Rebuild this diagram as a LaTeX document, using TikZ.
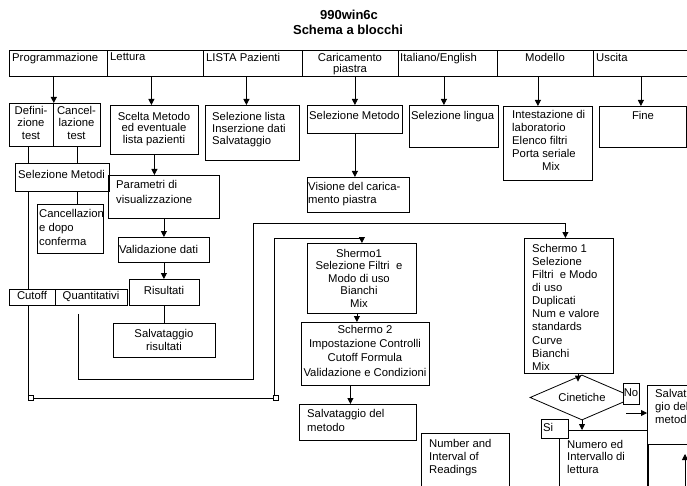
\documentclass[tikz,border=0pt]{standalone}
\usepackage{fontspec}
\setmainfont{Liberation Sans}
\usetikzlibrary{arrows.meta,shapes.geometric}

\begin{document}
\begin{tikzpicture}[x=1pt,y=-1pt,
	blocco/.style={draw,rectangle,inner sep=0pt,line width=0.8pt,anchor=north west},
	testo/.style={inner sep=0pt,font=\fontsize{11.3}{12.5}\selectfont},
	titolo/.style={inner sep=0pt,font=\bfseries\fontsize{13}{14}\selectfont},
	freccia/.style={line width=0.8pt,-{Triangle[length=6pt,width=6pt]}},
	linea/.style={line width=0.8pt},
	quadretto/.style={draw,fill=white,inner sep=0pt,minimum size=5pt,line width=0.6pt}]
			\useasboundingbox (0,0) rectangle (687,486);
			\clip (0,0) rectangle (687,486);
			% titolo
			\node[titolo] (tit1) at (349,15) {990win6c};
			\node[titolo] (tit2) at (348,30) {Schema a blocchi};
			% barra dei menu
			\node[blocco,minimum width=98,minimum height=26] (prog) at (9,50) {};
			\node[blocco,minimum width=96,minimum height=26] (lett) at (107,50) {};
			\node[blocco,minimum width=99,minimum height=26] (lista) at (203,50) {};
			\node[blocco,minimum width=96,minimum height=26] (caric) at (302,50) {};
			\node[blocco,minimum width=99,minimum height=26] (ital) at (398,50) {};
			\node[blocco,minimum width=96,minimum height=26] (mod) at (497,50) {};
			\node[blocco,minimum width=110,minimum height=26] (usc) at (593,50) {};
			\node[testo,anchor=north west] (prog-t) at (12,53) {Programmazione};
			\node[testo,anchor=north west] (lett-t) at (110,53) {Lettura};
			\node[testo,anchor=north west] (lista-t) at (206,53) {LISTA Pazienti};
			\node[testo,anchor=north,align=center,font=\fontsize{11.3}{11.5}\selectfont] (caric-t) at (350,53) {Caricamento\\piastra};
			\node[testo,anchor=north west] (ital-t) at (400,53) {Italiano/English};
			\node[testo,anchor=north] (mod-t) at (545,53) {Modello};
			\node[testo,anchor=north west] (usc-t) at (596,53) {Uscita};
			% secondo livello
			\node[blocco,minimum width=44,minimum height=43] (def) at (9,103) {};
			\node[blocco,minimum width=47,minimum height=43] (canc) at (53,103) {};
			\node[blocco,minimum width=88,minimum height=49] (scelta) at (110,105) {};
			\node[blocco,minimum width=94,minimum height=55] (sellista) at (205,105) {};
			\node[blocco,minimum width=95,minimum height=28] (selmet) at (307,105) {};
			\node[blocco,minimum width=89,minimum height=42] (sellingua) at (409,105) {};
			\node[blocco,minimum width=89,minimum height=74] (intest) at (503,106) {};
			\node[blocco,minimum width=87,minimum height=41] (fine) at (599,106) {};
			\node[blocco,minimum width=102,minimum height=35] (visione) at (307,177) {};
			\node[testo,anchor=north,align=center] (def-t) at (31,106) {Defini-\\zione\\test};
			\node[testo,anchor=north,align=center] (canc-t) at (76.5,106) {Cancel-\\lazione\\test};
			\node[testo,anchor=north,align=center,font=\fontsize{11.3}{11.5}\selectfont] (scelta-t) at (154,112) {Scelta Metodo\\ed eventuale\\lista pazienti};
			\node[testo,anchor=north west,align=left,font=\fontsize{11.3}{12}\selectfont] (sellista-t) at (212,112) {Selezione lista\\Inserzione dati\\Salvataggio};
			\node[testo,anchor=north west] (selmet-t) at (309,111) {Selezione Metodo};
			\node[testo,anchor=north west] (sellingua-t) at (411,111) {Selezione lingua};
			\node[testo,anchor=north west,align=left,font=\fontsize{11.3}{13}\selectfont] (intest-t) at (512,110) {Intestazione di\\laboratorio\\Elenco filtri\\Porta seriale\\\hspace*{30pt}Mix};
			\node[testo,anchor=north] (fine-t) at (643,111) {Fine};
			\node[testo,anchor=north west,align=left,font=\fontsize{11.3}{13}\selectfont] (visione-t) at (308,182) {Visione del carica-\\mento piastra};
			% colonna sinistra
			\node[blocco,minimum width=94,minimum height=28] (selmetodi) at (15,163) {};
			\node[blocco,minimum width=66,minimum height=49] (cancdopo) at (37,204) {};
			\node[blocco,minimum width=111,minimum height=43] (param) at (108,175) {};
			\node[blocco,minimum width=91,minimum height=25] (valid) at (118,237) {};
			\node[blocco,minimum width=70,minimum height=26] (risult) at (129,279) {};
			\node[blocco,minimum width=46,minimum height=16] (cutoff) at (9,289) {};
			\node[blocco,minimum width=72,minimum height=16] (quant) at (55,289) {};
			\node[blocco,minimum width=102,minimum height=34] (salvris) at (113,323) {};
			\node[testo,anchor=north west] (selmetodi-t) at (18,170) {Selezione Metodi};
			\node[testo,anchor=north west,align=left,font=\fontsize{11.3}{14}\selectfont] (cancdopo-t) at (39,209) {Cancellazion\\e dopo\\conferma};
			\node[testo,anchor=north west,align=left,font=\fontsize{11.3}{15}\selectfont] (param-t) at (116,180) {Parametri di\\visualizzazione};
			\node[testo,anchor=north west] (valid-t) at (119,245) {Validazione dati};
			\node[testo,anchor=north] (risult-t) at (164,286) {Risultati};
			\node[testo,anchor=north] (cutoff-t) at (32,291) {Cutoff};
			\node[testo,anchor=north] (quant-t) at (91,291) {Quantitativi};
			\node[testo,anchor=north,align=center,font=\fontsize{11.3}{13}\selectfont] (salvris-t) at (164,329) {Salvataggio\\risultati};
			% colonna centrale
			\node[blocco,minimum width=109,minimum height=70] (shermo1) at (307,243) {};
			\node[blocco,minimum width=128,minimum height=63] (schermo2) at (301,322) {};
			\node[blocco,minimum width=117,minimum height=36] (salvmet) at (299,404) {};
			\node[blocco,minimum width=88,minimum height=70] (number) at (421,433) {};
			\node[testo,anchor=north,align=center] (shermo1-t) at (359,249) {Shermo1\\Selezione Filtri\ \ e\\Modo di uso\\Bianchi\\Mix};
			\node[testo,anchor=north,align=center,font=\fontsize{11.3}{14.3}\selectfont] (schermo2-t) at (365,325) {Schermo 2\\Impostazione Controlli\\Cutoff Formula\\Validazione e Condizioni};
			\node[testo,anchor=north west,align=left,font=\fontsize{11.3}{14}\selectfont] (salvmet-t) at (307,409) {Salvataggio del\\metodo};
			\node[testo,anchor=north west,align=left,font=\fontsize{11.3}{13}\selectfont] (number-t) at (429,439) {Number and\\Interval of\\Readings};
			% colonna destra
			\node[blocco,minimum width=89,minimum height=135] (schermo1r) at (524,238) {};
			\node[testo,anchor=north west,align=left,font=\fontsize{11.3}{13.1}\selectfont] (schermo1r-t) at (532,244) {Schermo 1\\Selezione\\Filtri\ \ e Modo\\di uso\\Duplicati\\Num e valore\\standards\\Curve\\Bianchi\\Mix};
			\node[draw,diamond,aspect=2.4,minimum width=104pt,minimum height=45pt,testo,line width=0.8pt] (cin) at (582,397.5) {Cinetiche};
			\node[blocco,minimum width=88,minimum height=70] (numero) at (559,430) {};
			\node[testo,anchor=north west,align=left,font=\fontsize{11.3}{12.5}\selectfont] (numero-t) at (567,440) {Numero ed\\Intervallo di\\lettura};
			\node[blocco,fill=white,minimum width=27,minimum height=19] (si) at (541,419) {};
			\node[testo,anchor=north west] (si-t) at (543,423) {Si};
			\node[blocco,fill=white,minimum width=16,minimum height=21] (no) at (623,383) {};
			\node[testo] (no-t) at (631,393) {No};
			\node[blocco,minimum width=60,minimum height=59] (salvmet2) at (647,385) {};
			\node[blocco,minimum width=60,minimum height=60] (sotto) at (648,444) {};
			\node[testo,anchor=north west,align=left,font=\fontsize{11.3}{13}\selectfont] (salvmet2-t) at (655,389) {Salvatag-\\gio del\\metodo};
			% frecce dal menu
			\draw[freccia] (prog.south -| def.east) -- (def.north east);
			\draw[freccia] ([xshift=-3pt]scelta.north |- lett.south) -- ([xshift=-3pt]scelta.north);
			\draw[freccia] ([xshift=-6pt]sellista.north |- lista.south) -- ([xshift=-6pt]sellista.north);
			\draw[freccia] (selmet.north |- caric.south) -- (selmet.north);
			\draw[freccia] ([xshift=-10pt]sellingua.north |- ital.south) -- ([xshift=-10pt]sellingua.north);
			\draw[freccia] ([xshift=-10pt]intest.north |- mod.south) -- ([xshift=-10pt]intest.north);
			\draw[freccia] ([xshift=-2pt]fine.north |- usc.south) -- ([xshift=-2pt]fine.north);
			\draw[freccia] (selmet.south) -- (selmet.south |- visione.north);
			% collegamenti a sinistra
			\draw[linea] ([xshift=-3pt]def.south) -- ([xshift=-3pt]def.south |- selmetodi.north);
			\draw[linea] (canc.south) -- (canc.south |- selmetodi.north);
			\draw[linea] (canc.south |- selmetodi.south) -- (canc.south |- cancdopo.north);
			\draw[linea] ([xshift=-3pt]def.south |- selmetodi.south) -- ([xshift=-3pt]def.south |- cutoff.north);
			\draw[freccia] (scelta.south) -- (scelta.south |- param.north);
			\draw[freccia] (param.south) -- (param.south |- valid.north);
			\draw[freccia] (valid.south) -- (valid.south |- risult.north);
			\draw[linea] (risult.south) -- (risult.south |- salvris.north);
			% anelli verso gli schermi
			\coordinate (angA) at (28,398);
			\coordinate (angB) at (274,398);
			\coordinate (angC) at (274,238);
			\coordinate (angD) at (78,379);
			\coordinate (angE) at (253,379);
			\coordinate (angF) at (253,223);
			\draw[freccia] (angA |- cutoff.south) -- (angA) -- (angB) -- (angC) -| (shermo1.north);
			\draw[freccia] ([yshift=-8pt]angD |- quant.south) -- (angD) -- (angE) -- (angF) -| ([xshift=-3.5pt]schermo1r.north);
			\node[quadretto] (qA) at (31,398) {};
			\node[quadretto] (qB) at (276,398) {};
			% colonna centrale
			\draw[freccia] ([xshift=-5pt]shermo1.south) -- ([xshift=-5pt]shermo1.south |- schermo2.north);
			\draw[freccia] ([xshift=-15pt]schermo2.south) -- ([xshift=-15pt]schermo2.south |- salvmet.north);
			% colonna destra
			\draw[freccia] ([xshift=-4pt]cin.north |- schermo1r.south) -- ([xshift=-4pt,yshift=-7pt]cin.north);
			\draw[freccia] (cin.south) -- (cin.south |- numero.north);
			\coordinate (libero1) at (626,413);
			\coordinate (libero2) at (685,490);
			\coordinate (libero3) at (685,454);
			\draw[freccia] (libero1) -- (libero1 -| salvmet2.west);
			\draw[freccia] (libero2) -- (libero3);
		\end{tikzpicture}
\end{document}
